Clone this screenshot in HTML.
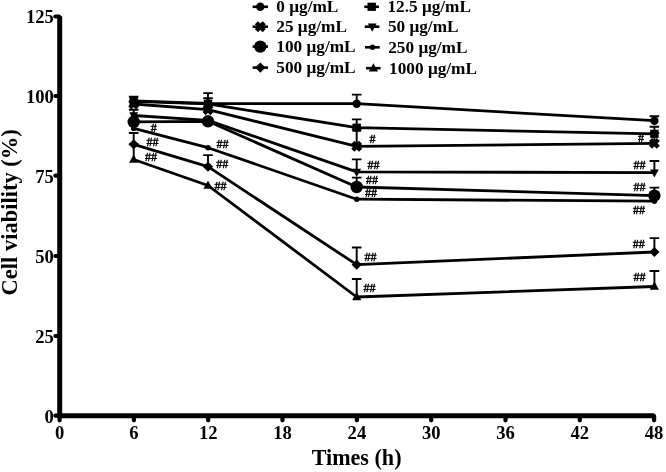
<!DOCTYPE html>
<html><head><meta charset="utf-8"><title>Cell viability</title>
<style>
html,body{margin:0;padding:0;background:#fff;}
body{width:666px;height:472px;overflow:hidden;}
svg{display:block;will-change:transform;}
text{font-family:"Liberation Serif",serif;fill:#000;}
.b{font-weight:bold;}
</style></head><body>
<svg width="666" height="472" viewBox="0 0 666 472">
<rect width="666" height="472" fill="#fff"/>

<g stroke="#000" stroke-linecap="round" fill="none">
<path d="M59.7 16.2V415.7H654.4" stroke-width="5" stroke-linejoin="miter" stroke-linecap="butt"/>
<path d="M55.4 16.5H59" stroke-width="4.2"/>
<path d="M55.4 96.0H59" stroke-width="4.2"/>
<path d="M55.4 175.7H59" stroke-width="4.2"/>
<path d="M55.4 256.0H59" stroke-width="4.2"/>
<path d="M55.4 336.0H59" stroke-width="4.2"/>
<path d="M55.4 415.7H59" stroke-width="4.2"/>
<path d="M59.6 416V420.3" stroke-width="4.2"/>
<path d="M133.9 416V420.3" stroke-width="4.2"/>
<path d="M208.2 416V420.3" stroke-width="4.2"/>
<path d="M282.5 416V420.3" stroke-width="4.2"/>
<path d="M356.9 416V420.3" stroke-width="4.2"/>
<path d="M431.2 416V420.3" stroke-width="4.2"/>
<path d="M505.5 416V420.3" stroke-width="4.2"/>
<path d="M579.8 416V420.3" stroke-width="4.2"/>
<path d="M654.1 416V420.3" stroke-width="4.2"/>
</g>
<g class="b" font-size="18.6" text-anchor="end">
<text x="53.8" y="23.4">125</text>
<text x="53.8" y="102.9">100</text>
<text x="53.8" y="182.6">75</text>
<text x="53.8" y="262.9">50</text>
<text x="53.8" y="342.9">25</text>
<text x="53.8" y="422.6">0</text>
</g>
<g class="b" font-size="18.6" text-anchor="middle">
<text x="59.6" y="438.8">0</text>
<text x="133.9" y="438.8">6</text>
<text x="208.2" y="438.8">12</text>
<text x="282.5" y="438.8">18</text>
<text x="356.9" y="438.8">24</text>
<text x="431.2" y="438.8">30</text>
<text x="505.5" y="438.8">36</text>
<text x="579.8" y="438.8">42</text>
<text x="654.1" y="438.8">48</text>
</g>
<text class="b" font-size="22.1" text-anchor="middle" x="356.6" y="465.4">Times (h)</text>
<text class="b" font-size="22.5" text-anchor="middle" transform="translate(17.2 212.3) rotate(-90)">Cell viability (%)</text>
<g id="c0" fill="#000">
<polyline points="133.7,100.9 208.0,103.5 356.7,103.7 654.4,120.7" fill="none" stroke="#000" stroke-width="2.8" stroke-linejoin="round"/>
<circle cx="133.7" cy="100.9" r="4.2"/>
<path d="M208.0 103.5V93.1M203.2 93.1H212.8" stroke="#000" stroke-width="1.9" fill="none"/>
<circle cx="208.0" cy="103.5" r="4.2"/>
<path d="M356.7 103.7V94.6M351.9 94.6H361.5" stroke="#000" stroke-width="1.9" fill="none"/>
<circle cx="356.7" cy="103.7" r="4.2"/>
<path d="M654.4 120.7V116.2M649.6 116.2H659.1999999999999" stroke="#000" stroke-width="1.9" fill="none"/>
<circle cx="654.4" cy="120.7" r="4.2"/>
</g>
<g id="c12" fill="#000">
<polyline points="133.7,101.3 208.0,103.9 356.7,127.7 654.4,133.8" fill="none" stroke="#000" stroke-width="2.8" stroke-linejoin="round"/>
<path d="M133.7 101.3V96.8M128.89999999999998 96.8H138.5" stroke="#000" stroke-width="1.9" fill="none"/>
<rect x="129.5" y="97.2" width="8.4" height="8.2"/>
<path d="M208.0 103.9V98.3M203.2 98.3H212.8" stroke="#000" stroke-width="1.9" fill="none"/>
<rect x="203.8" y="99.80000000000001" width="8.4" height="8.2"/>
<path d="M356.7 127.7V119.4M351.9 119.4H361.5" stroke="#000" stroke-width="1.9" fill="none"/>
<rect x="352.5" y="123.60000000000001" width="8.4" height="8.2"/>
<path d="M654.4 133.8V126.7M649.6 126.7H659.1999999999999" stroke="#000" stroke-width="1.9" fill="none"/>
<rect x="650.1999999999999" y="129.70000000000002" width="8.4" height="8.2"/>
</g>
<g id="c25" fill="#000">
<polyline points="133.7,104.0 208.0,109.7 356.7,146.3 654.4,143.4" fill="none" stroke="#000" stroke-width="2.8" stroke-linejoin="round"/>
<path d="M129.79999999999998 100.1L137.6 107.9M129.79999999999998 107.9L137.6 100.1" stroke="#000" stroke-width="4.4" fill="none"/>
<path d="M204.1 105.8L211.9 113.60000000000001M204.1 113.60000000000001L211.9 105.8" stroke="#000" stroke-width="4.4" fill="none"/>
<path d="M356.7 146.3V129.5M351.9 129.5H361.5" stroke="#000" stroke-width="1.9" fill="none"/>
<path d="M352.8 142.4L360.59999999999997 150.20000000000002M352.8 150.20000000000002L360.59999999999997 142.4" stroke="#000" stroke-width="4.4" fill="none"/>
<path d="M654.4 143.4V133.0M649.6 133.0H659.1999999999999" stroke="#000" stroke-width="1.9" fill="none"/>
<path d="M650.5 139.5L658.3 147.3M650.5 147.3L658.3 139.5" stroke="#000" stroke-width="4.4" fill="none"/>
</g>
<g id="c50" fill="#000">
<polyline points="133.7,115.5 208.0,120.3 356.7,171.9 654.4,172.6" fill="none" stroke="#000" stroke-width="2.8" stroke-linejoin="round"/>
<path d="M133.7 115.5V109.7M128.89999999999998 109.7H138.5" stroke="#000" stroke-width="1.9" fill="none"/>
<path d="M129.29999999999998 112.3L138.1 112.3L133.7 120.5Z"/>
<path d="M203.6 117.1L212.4 117.1L208.0 125.3Z"/>
<path d="M356.7 171.9V159.4M351.9 159.4H361.5" stroke="#000" stroke-width="1.9" fill="none"/>
<path d="M352.3 168.70000000000002L361.09999999999997 168.70000000000002L356.7 176.9Z"/>
<path d="M654.4 172.6V161.0M649.6 161.0H659.1999999999999" stroke="#000" stroke-width="1.9" fill="none"/>
<path d="M650.0 169.4L658.8 169.4L654.4 177.6Z"/>
</g>
<g id="c100" fill="#000">
<polyline points="133.7,121.8 208.0,121.3 356.7,187.0 654.4,195.6" fill="none" stroke="#000" stroke-width="2.8" stroke-linejoin="round"/>
<circle cx="133.7" cy="121.8" r="6.2"/>
<circle cx="208.0" cy="121.3" r="6.2"/>
<path d="M356.7 187.0V177.6M351.9 177.6H361.5" stroke="#000" stroke-width="1.9" fill="none"/>
<circle cx="356.7" cy="187.0" r="6.2"/>
<path d="M654.4 195.6V187.6M649.6 187.6H659.1999999999999" stroke="#000" stroke-width="1.9" fill="none"/>
<circle cx="654.4" cy="195.6" r="6.2"/>
</g>
<g id="c250" fill="#000">
<polyline points="133.7,128.4 208.0,147.7 356.7,199.2 654.4,201.2" fill="none" stroke="#000" stroke-width="2.8" stroke-linejoin="round"/>
<circle cx="133.7" cy="128.4" r="2.7"/>
<circle cx="208.0" cy="147.7" r="2.7"/>
<circle cx="356.7" cy="199.2" r="2.7"/>
<circle cx="654.4" cy="201.2" r="2.7"/>
</g>
<g id="c500" fill="#000">
<polyline points="133.7,144.3 208.0,166.7 356.7,264.7 654.4,252.0" fill="none" stroke="#000" stroke-width="2.8" stroke-linejoin="round"/>
<path d="M133.7 144.3V133.0M128.89999999999998 133.0H138.5" stroke="#000" stroke-width="1.9" fill="none"/>
<path d="M128.6 144.3L133.7 139.20000000000002L138.79999999999998 144.3L133.7 149.4Z"/>
<path d="M208.0 166.7V155.1M203.2 155.1H212.8" stroke="#000" stroke-width="1.9" fill="none"/>
<path d="M202.9 166.7L208.0 161.6L213.1 166.7L208.0 171.79999999999998Z"/>
<path d="M356.7 264.7V247.5M351.9 247.5H361.5" stroke="#000" stroke-width="1.9" fill="none"/>
<path d="M351.59999999999997 264.7L356.7 259.59999999999997L361.8 264.7L356.7 269.8Z"/>
<path d="M654.4 252.0V238.1M649.6 238.1H659.1999999999999" stroke="#000" stroke-width="1.9" fill="none"/>
<path d="M649.3 252.0L654.4 246.9L659.5 252.0L654.4 257.1Z"/>
</g>
<g id="c1000" fill="#000">
<polyline points="133.7,159.5 208.0,185.5 356.7,297.0 654.4,286.5" fill="none" stroke="#000" stroke-width="2.8" stroke-linejoin="round"/>
<path d="M133.7 159.5V144.3M128.89999999999998 144.3H138.5" stroke="#000" stroke-width="1.9" fill="none"/>
<path d="M129.1 162.7L138.29999999999998 162.7L133.7 154.5Z"/>
<path d="M203.4 188.7L212.6 188.7L208.0 180.5Z"/>
<path d="M356.7 297.0V279.0M351.9 279.0H361.5" stroke="#000" stroke-width="1.9" fill="none"/>
<path d="M352.09999999999997 300.2L361.3 300.2L356.7 292.0Z"/>
<path d="M654.4 286.5V271.0M649.6 271.0H659.1999999999999" stroke="#000" stroke-width="1.9" fill="none"/>
<path d="M649.8 289.7L659.0 289.7L654.4 281.5Z"/>
</g>
<g font-size="12" stroke="#000" stroke-width="0.45">
<text x="150.7" y="131.7">#</text>
<text x="146.5" y="146.0">##</text>
<text x="145" y="160.5">##</text>
<text x="216.6" y="147.6">##</text>
<text x="216.2" y="168.4">##</text>
<text x="214.5" y="189.5">##</text>
<text x="369.5" y="143">#</text>
<text x="367.5" y="169.2">##</text>
<text x="366.1" y="184">##</text>
<text x="365" y="197.2">##</text>
<text x="364.5" y="261">##</text>
<text x="363.5" y="292">##</text>
<text x="638" y="142">#</text>
<text x="633.5" y="169">##</text>
<text x="633.5" y="191">##</text>
<text x="633" y="213.5">##</text>
<text x="632.7" y="248.2">##</text>
<text x="633.6" y="281.3">##</text>
</g>
<g id="legend" fill="#000">
<path d="M252.6 6.8H268" stroke="#000" stroke-width="2.6"/>
<circle cx="260.3" cy="6.8" r="4.2"/>
<text class="b" font-size="17.25" x="276.3" y="12.4">0 μg/mL</text>
<path d="M252.6 26.7H268" stroke="#000" stroke-width="2.6"/>
<path d="M256.40000000000003 22.8L264.2 30.599999999999998M256.40000000000003 30.599999999999998L264.2 22.8" stroke="#000" stroke-width="4.4" fill="none"/>
<text class="b" font-size="17.25" x="276.3" y="32.3">25 μg/mL</text>
<path d="M252.6 46.6H268" stroke="#000" stroke-width="2.6"/>
<circle cx="260.3" cy="46.6" r="6.2"/>
<text class="b" font-size="17.25" x="276.3" y="52.2">100 μg/mL</text>
<path d="M252.6 67.6H268" stroke="#000" stroke-width="2.6"/>
<path d="M255.20000000000002 67.6L260.3 62.49999999999999L265.40000000000003 67.6L260.3 72.69999999999999Z"/>
<text class="b" font-size="17.25" x="276.3" y="73.2">500 μg/mL</text>
<path d="M364.3 6.8H378.9" stroke="#000" stroke-width="2.6"/>
<rect x="367.5" y="2.7" width="8.4" height="8.2"/>
<text class="b" font-size="17.25" x="387.4" y="12.4">12.5 μg/mL</text>
<path d="M364.8 26.7H379.4" stroke="#000" stroke-width="2.6"/>
<path d="M367.8 23.5L376.59999999999997 23.5L372.2 31.7Z"/>
<text class="b" font-size="17.25" x="387.9" y="32.3">50 μg/mL</text>
<path d="M365.1 47.3H379.7" stroke="#000" stroke-width="2.6"/>
<circle cx="372.5" cy="47.3" r="2.7"/>
<text class="b" font-size="17.25" x="388.2" y="52.9">250 μg/mL</text>
<path d="M366.0 68.2H380.59999999999997" stroke="#000" stroke-width="2.6"/>
<path d="M368.79999999999995 71.4L378.0 71.4L373.4 63.2Z"/>
<text class="b" font-size="17.25" x="389.1" y="73.8">1000 μg/mL</text>
</g>
</svg></body></html>
